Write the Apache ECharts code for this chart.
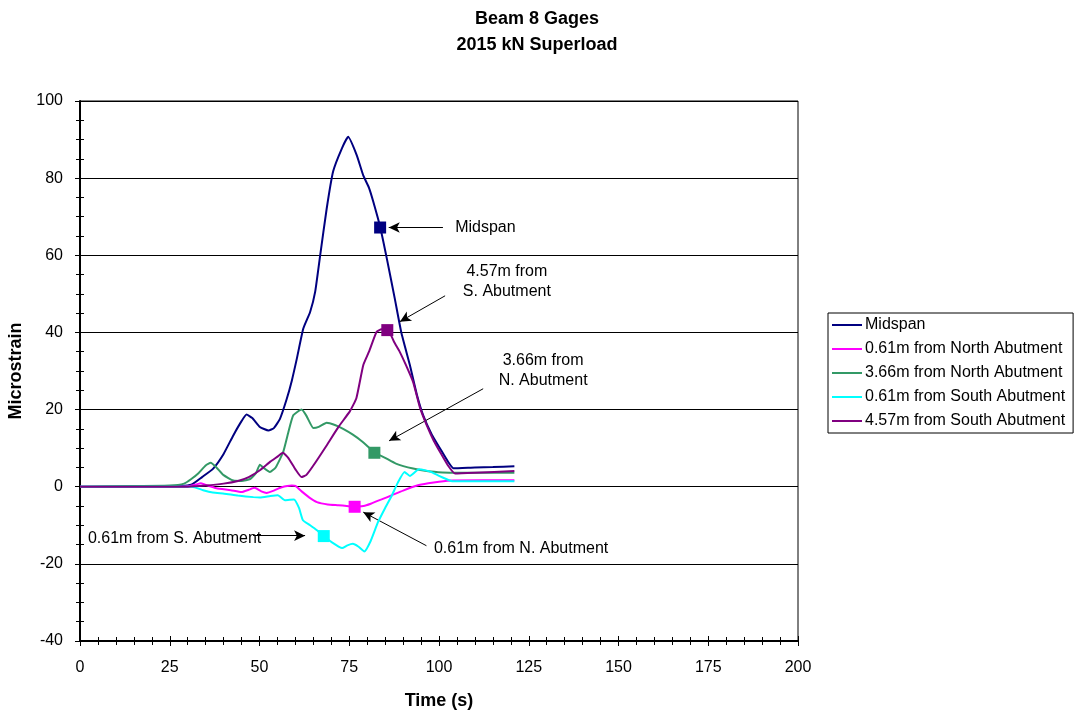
<!DOCTYPE html>
<html>
<head>
<meta charset="utf-8">
<script src="https://cdn.jsdelivr.net/npm/echarts@6/dist/echarts.min.js"></script>
<style>html,body{margin:0;padding:0;background:#fff}#c{width:1074px;height:711px}</style>
</head>
<body>
<div id="c"></div>
<script>
// ---- data (time s, microstrain) ----
const seriesNames = ['Midspan','0.61m from North Abutment','3.66m from North Abutment','0.61m from South Abutment','4.57m from South Abutment'];
const seriesColors = ['#000080','#FF00FF','#339966','#00FFFF','#800080'];

const midspan = [[0,0],[10,0],[20,0.1],[28,0.2],[31,0.5],[34,2.5],[37.1,4.7],[40,8.5],[42.7,13.3],[45,17],[46.4,18.7],[48,17.8],[50.1,15.5],[52.5,14.6],[54,15.2],[55.7,17.6],[57.6,22.8],[59,27.5],[60.4,33.2],[62.2,41],[64.1,45.3],[65.5,50.5],[66.9,60],[68.7,72],[70.5,81.7],[72.9,87.6],[74.7,90.7],[77.1,85.9],[78.9,80.7],[80.5,77.5],[81.7,73.9],[83.6,67.4],[85.5,59],[87.7,48.7],[89.5,40],[91.9,31.5],[93.8,24],[95.6,18.5],[98,13.5],[100.3,9.9],[102.5,6.5],[104,4.8],[110,5],[115,5.1],[121,5.3]];
const north061 = [[0,0],[25,0],[30,0.1],[32,0.5],[33.7,0.9],[35.5,0.3],[38,-0.4],[42,-0.9],[45,-1.4],[47,-0.8],[48.6,-0.3],[50.5,-1.2],[52,-1.6],[54,-1],[56,-0.2],[59,0.3],[60,0.2],[62,-1.4],[64,-2.9],[66,-4],[69,-4.6],[72,-4.8],[74.3,-5],[76.5,-5.2],[79,-5],[81,-4.4],[84,-3.3],[86.9,-2.2],[90,-1],[93.9,0.3],[97,0.9],[100,1.3],[103.9,1.6],[121,1.7]];
const north366 = [[0,0],[15,0.2],[25,0.3],[29,0.8],[31,2],[33,3.5],[35,5.5],[36.4,6.2],[38,5],[40,3],[42.7,1.6],[45,1.5],[47.4,2],[49,3.5],[50.1,5.7],[51,5],[52.9,3.8],[54.5,5],[56.6,9],[58,14],[59.4,18.5],[61.7,20],[63,18.5],[65,15.2],[66.5,15.5],[68.7,16.6],[71,16],[73.3,15],[76,13.5],[78.5,11.8],[80.8,9.9],[82.2,8.8],[85,7.5],[88,6],[92.8,4.7],[97,4],[101,3.7],[105,3.6],[121,3.6]];
const south061 = [[0,0],[25,0],[31.2,0],[34.3,-0.9],[37,-1.5],[40.2,-1.8],[44,-2.3],[48.3,-2.7],[50.1,-2.8],[53,-2.4],[55.1,-2.2],[57.1,-3.5],[59.6,-3.3],[61,-5.5],[62.1,-8.7],[64.1,-10],[66,-11.3],[67.9,-12.8],[70,-14.3],[73,-15.9],[74.5,-15.2],[76,-14.8],[77.5,-15.5],[79.2,-16.8],[81,-14],[83,-9.2],[85,-5.5],[86.9,-2.2],[88.5,1],[90.4,3.8],[91.9,2.8],[94.4,4.5],[96,4.3],[97.9,3.8],[100,2.8],[102,2],[103.9,1.4],[121,1.4]];
const south457 = [[0,0],[20,0],[30,0],[35,0.3],[40,0.8],[44,1.5],[47,2.5],[50,4.2],[53,6.5],[55,7.8],[56.5,8.8],[58,7.5],[60,4.5],[61.7,2.5],[63,3],[65,5.5],[68.7,10.7],[72,15.5],[75.2,19.6],[77,23],[78.9,31.5],[80.5,35],[82.6,40.1],[84,40.8],[85.9,40.6],[87.5,37.5],[89.1,34.9],[90.8,31.5],[92.8,27.1],[94.7,20.5],[96.6,15.9],[98.5,12],[100.3,9],[102.5,5.5],[104.5,3.4],[110,3.6],[121,4.1]];

// highlighted points (square markers), in the same order as seriesNames
const markerPoints = [[83.6,67.2],[76.5,-5.2],[82.0,8.8],[67.9,-12.8],[85.6,40.6]];

// annotation arrows: [from, to] in data units
const arrows = [
  [[101.1,67.2],[86.0,67.2]],
  [[101.7,49.5],[89.1,42.8]],
  [[112.3,25.4],[86.1,11.9]],
  [[48.2,-12.7],[62.7,-12.7]],
  [[96.5,-15.3],[78.9,-6.6]]
];
// annotation texts: [t, v, text, align]
const notes = [
  [104.5,67.2,'Midspan','left'],
  [118.9,53.2,'4.57m from\nS. Abutment','center'],
  [129.0,30.1,'3.66m from\nN. Abutment','center'],
  [2.2,-13.5,'0.61m from S. Abutment','left'],
  [98.6,-16.1,'0.61m from N. Abutment','left']
];

const xTicks = {min:0, max:200, interval:25};
const yTicks = {min:-40, max:100, interval:20};

const FONT = 'Liberation Sans, Arial, sans-serif';
const dataSets = [midspan, north061, north366, south061, south457];

const chart = echarts.init(document.getElementById('c'), null, {renderer:'canvas'});

const series = [];
dataSets.forEach((d,i)=>{
  series.push({
    name: seriesNames[i], type:'line', data:d, showSymbol:false, symbol:'none',
    lineStyle:{color:seriesColors[i], width:2}, itemStyle:{color:seriesColors[i]},
    smooth:0.15, animation:false, z:3+i
  });
});
markerPoints.forEach((p,i)=>{
  series.push({
    name:'m'+i, type:'scatter', data:[p], symbol:'rect', symbolSize:12,
    itemStyle:{color:seriesColors[i], opacity:1}, animation:false, z:10
  });
});
series.push({
  name:'annot', type:'scatter', data:[], animation:false, silent:true,
  markLine:{
    silent:true, animation:false, symbol:['none','arrow'], symbolSize:[8,11],
    lineStyle:{color:'#000', width:1, type:'solid'}, label:{show:false},
    data: arrows.map(a=>[{coord:a[0]},{coord:a[1]}])
  },
  markPoint:{
    silent:true, animation:false,
    data: notes.map(n=>({coord:[n[0],n[1]], symbol:'circle', symbolSize:0,
      label:{show:true, position:'inside', formatter:n[2], align:n[3], verticalAlign:'middle',
        color:'#000', fontFamily:FONT, fontSize:16, lineHeight:20}}))
  }
});

chart.setOption({
  backgroundColor:'#fff',
  animation:false,
  title:{
    text:'Beam 8 Gages\n2015 kN Superload', left:'center', top:1,
    textStyle:{fontFamily:FONT, fontSize:18, fontWeight:'bold', color:'#000', lineHeight:26}
  },
  legend:{
    data:seriesNames, orient:'vertical', left:828, top:313,
    icon:'rect', itemWidth:30, itemHeight:2, itemGap:8,
    borderColor:'#000', borderWidth:1, padding:[4,8,4,4],
    textStyle:{fontFamily:FONT, fontSize:16, color:'#000', padding:[0,0,0,-2]},
    selectedMode:false
  },
  grid:{left:80, top:101, width:718, height:540, show:true, borderColor:'#000', borderWidth:1,
        containLabel:false, outerBoundsMode:'none'},
  xAxis:[{
    type:'value', min:xTicks.min, max:xTicks.max, interval:xTicks.interval,
    name:'Time (s)', nameLocation:'middle', nameGap:51,
    nameTextStyle:{fontFamily:FONT, fontSize:18, fontWeight:'bold', color:'#000'},
    axisLine:{show:true, onZero:false, lineStyle:{color:'#000', width:2}},
    axisTick:{show:true, length:5, lineStyle:{color:'#000', width:1}},
    minorTick:{show:true, splitNumber:5, length:4, lineStyle:{color:'#000', width:1}},
    axisLabel:{fontFamily:FONT, fontSize:16, color:'#000', margin:19},
    splitLine:{show:false}
  },{
    type:'value', position:'bottom', min:xTicks.min, max:xTicks.max, interval:xTicks.interval,
    axisLine:{show:false, onZero:false}, axisLabel:{show:false}, splitLine:{show:false},
    axisTick:{show:true, inside:true, length:5, lineStyle:{color:'#000', width:1}},
    minorTick:{show:true, splitNumber:5, length:4, lineStyle:{color:'#000', width:1}}
  }],
  yAxis:[{
    type:'value', min:yTicks.min, max:yTicks.max, interval:yTicks.interval,
    name:'Microstrain', nameLocation:'middle', nameGap:54,
    nameTextStyle:{fontFamily:FONT, fontSize:18, fontWeight:'bold', color:'#000'},
    axisLine:{show:true, onZero:false, lineStyle:{color:'#000', width:2}},
    axisTick:{show:true, length:5, lineStyle:{color:'#000', width:1}},
    minorTick:{show:true, splitNumber:4, length:4, lineStyle:{color:'#000', width:1}},
    axisLabel:{fontFamily:FONT, fontSize:16, color:'#000', margin:17},
    splitLine:{show:true, lineStyle:{color:'#000', width:1}}
  },{
    type:'value', position:'left', min:yTicks.min, max:yTicks.max, interval:yTicks.interval,
    axisLine:{show:false, onZero:false}, axisLabel:{show:false}, splitLine:{show:false},
    axisTick:{show:true, inside:true, length:5, lineStyle:{color:'#000', width:1}},
    minorTick:{show:true, splitNumber:4, length:4, lineStyle:{color:'#000', width:1}}
  }],
  series: series
});
</script>
</body>
</html>
